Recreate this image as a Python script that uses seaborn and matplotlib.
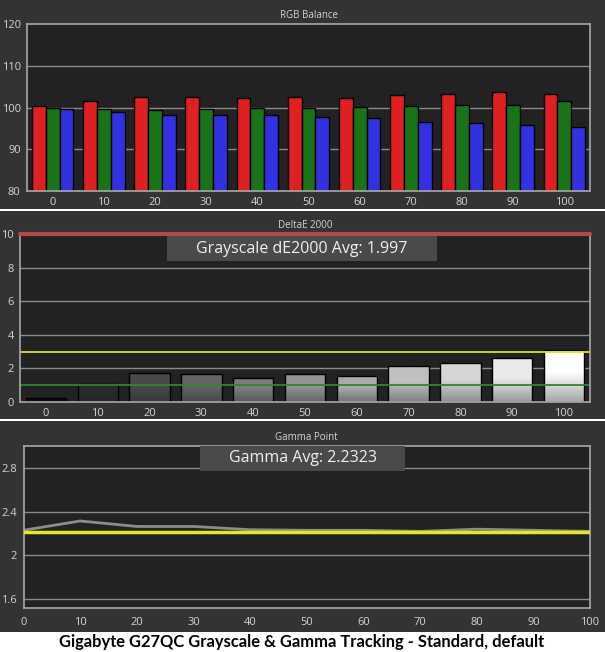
import matplotlib
matplotlib.use("Agg")
import matplotlib.pyplot as plt
import matplotlib.colors as mcolors
from matplotlib.patches import Rectangle
import seaborn as sns
import pandas as pd
import numpy as np

# stimulus levels (% grey)
levels = [0, 10, 20, 30, 40, 50, 60, 70, 80, 90, 100]

# RGB balance (%)
red = [100.4, 101.6, 102.5, 102.5, 102.3, 102.5, 102.3, 103.0, 103.3, 103.7, 103.3]
green = [99.9, 99.7, 99.4, 99.7, 99.9, 99.9, 100.2, 100.4, 100.6, 100.6, 101.6]
blue = [99.7, 99.0, 98.3, 98.1, 98.1, 97.8, 97.5, 96.6, 96.3, 95.9, 95.4]

# DeltaE 2000 per step
delta_e = [0.26, 1.08, 1.75, 1.67, 1.43, 1.67, 1.55, 2.15, 2.33, 2.59, 3.11]
de_avg_label = "Grayscale dE2000 Avg: 1.997"

# gamma per step
gamma = [2.23, 2.315, 2.265, 2.265, 2.235, 2.23, 2.23, 2.22, 2.24, 2.23, 2.22]
gamma_target = 2.21
gamma_avg_label = "Gamma Avg: 2.2323"

caption = "Gigabyte G27QC Grayscale & Gamma Tracking - Standard, default"

PANEL = "#333333"
PLOT = "#222222"
TXT = "#d4d4d4"
GRID = "#8a8a8a"
SPINE = "#a8a8a8"

sns.set_style("dark")
plt.rcParams["font.family"] = ["Open Sans", "DejaVu Sans"]

fig = plt.figure(figsize=(6.05, 6.52), dpi=100, facecolor="white")
H = 652.0
W = 605.0


def panel_bg(y0, y1):
    fig.add_artist(Rectangle((0, 1 - y1 / H), 1, (y1 - y0) / H, transform=fig.transFigure,
                             facecolor=PANEL, edgecolor="none", zorder=-5))


def make_ax(x0, x1, y0, y1):
    ax = fig.add_axes([x0 / W, 1 - y1 / H, (x1 - x0) / W, (y1 - y0) / H])
    ax.set_facecolor(PLOT)
    for s in ax.spines.values():
        s.set_color(SPINE)
        s.set_linewidth(1.2)
        s.set_visible(True)
    ax.grid(False)
    ax.tick_params(colors=SPINE, labelcolor=TXT, labelsize=8, length=3, width=1)
    ax.tick_params(axis="y", pad=1.5)
    return ax


def gradient_bar(ax, patch, top, bottom, floor, hold=0.0):
    x0, w = patch.get_x(), patch.get_width()
    y1 = patch.get_y() + patch.get_height()
    y0 = max(patch.get_y(), floor)
    top = np.array(mcolors.to_rgb(top))
    bottom = np.array(mcolors.to_rgb(bottom))
    t = np.linspace(0, 1, 80)
    frac = np.clip((t - hold) / (1 - hold), 0, 1)[:, None, None]
    img = top[None, None, :] + (bottom - top)[None, None, :] * frac
    im = ax.imshow(img, extent=(x0, x0 + w, y0, y1), origin="upper", aspect="auto",
                   interpolation="bilinear", zorder=0.9)
    im.set_clip_path(patch)
    patch.set_facecolor("none")
    patch.set_zorder(1)


def cat_xaxis(ax):
    ax.set_xticks(range(len(levels)))
    ax.set_xticklabels([str(v) for v in levels])
    ax.set_xticks(np.arange(-0.5, len(levels), 1), minor=True)
    ax.tick_params(axis="x", which="major", length=0, pad=4)
    ax.tick_params(axis="x", which="minor", length=3, color=SPINE)
    ax.set_xlim(-0.5, len(levels) - 0.5)
    ax.set_xlabel("")
    ax.set_ylabel("")


panel_bg(0, 209)
panel_bg(211, 419)
panel_bg(421, 632)

# ---- RGB balance
ax1 = make_ax(27, 590, 24, 191)
rgb = pd.DataFrame({
    "level": levels * 3,
    "value": red + green + blue,
    "channel": ["R"] * 11 + ["G"] * 11 + ["B"] * 11,
})
base = {"R": "#ff0000", "G": "#0a820a", "B": "#1414ff"}
tops = {"R": "#ff6464", "G": "#5cae5c", "B": "#6464ff"}
sns.barplot(data=rgb, x="level", y="value", hue="channel", palette=base, width=0.81,
            edgecolor="black", linewidth=1, legend=False, ax=ax1)
lookup = {mcolors.to_hex(c): k for k, c in base.items()}
for p in list(ax1.patches):
    k = lookup.get(mcolors.to_hex(p.get_facecolor()))
    if k is not None:
        gradient_bar(ax1, p, tops[k], base[k], 80)
for v in [90, 100, 110]:
    ax1.axhline(v, color=GRID, lw=1, zorder=0.5)
ax1.set_ylim(80, 120)
ax1.set_yticks([80, 90, 100, 110, 120])
cat_xaxis(ax1)
ax1.set_title("RGB Balance", color=TXT, fontsize=7, pad=4)

# ---- DeltaE 2000
ax2 = make_ax(20, 590, 234, 402)
de = pd.DataFrame({"level": levels, "de": delta_e})
greys = [mcolors.to_hex([max((v / 100) ** 0.78, 0.04)] * 3) for v in levels]
sns.barplot(data=de, x="level", y="de", hue="level", palette=greys, width=0.78,
            edgecolor="black", linewidth=1, legend=False, ax=ax2)
for p in list(ax2.patches):
    c = np.array(mcolors.to_rgb(p.get_facecolor()))
    if p.get_height() > 0:
        gradient_bar(ax2, p, c, np.clip(c * 0.6 + 0.05, 0, 1), 0, hold=0.45)
for v in [2, 4, 6, 8]:
    ax2.axhline(v, color=GRID, lw=1, zorder=0.5)
ax2.axhline(3.0, color="#e0e020", lw=1.3, zorder=2)
ax2.axhline(1.0, color="#2a8a2a", lw=1.3, zorder=2)
ax2.axhline(10, color="#b84848", lw=3, zorder=3, clip_on=False)
ax2.set_ylim(0, 10)
ax2.set_yticks([0, 2, 4, 6, 8, 10])
ax2.spines["top"].set_visible(False)
cat_xaxis(ax2)
ax2.set_title("DeltaE 2000", color=TXT, fontsize=7, pad=4)
ax2.add_patch(Rectangle((0.258, 0.839), 0.474, 0.149, transform=ax2.transAxes,
                        facecolor="#4a4a4a", edgecolor="none", zorder=4))
ax2.text(0.495, 0.913, de_avg_label, transform=ax2.transAxes, ha="center", va="center",
         color="#f0f0f0", fontsize=11.5, zorder=5)

# ---- Gamma
ax3 = make_ax(23.5, 590, 446, 608)
gm = pd.DataFrame({"level": levels, "gamma": gamma})
for v in [1.6, 2.0, 2.4, 2.8]:
    ax3.axhline(v, color=GRID, lw=1, zorder=0.5)
sns.lineplot(data=gm, x="level", y="gamma", color="#8c8c8c", lw=2, ax=ax3, zorder=2)
ax3.axhline(gamma_target, color="#e6e62a", lw=2.5, zorder=3)
ax3.set_xlim(0, 100)
ax3.set_ylim(1.52, 3.0)
ax3.set_xticks(levels)
ax3.set_yticks([1.6, 2.0, 2.4, 2.8])
ax3.set_yticklabels(["1.6", "2", "2.4", "2.8"])
ax3.set_xlabel("")
ax3.set_ylabel("")
ax3.set_title("Gamma Point", color=TXT, fontsize=7, pad=4)
ax3.add_patch(Rectangle((0.3116, 0.8475), 0.3614, 0.1525, transform=ax3.transAxes,
                        facecolor="#4a4a4a", edgecolor="none", zorder=4))
ax3.text(0.4925, 0.925, gamma_avg_label, transform=ax3.transAxes, ha="center", va="center",
         color="#f0f0f0", fontsize=11.5, zorder=5)

fig.text(0.4985, 1 - 642 / H, caption, ha="center", va="center", fontsize=11.9,
         fontweight="bold", family=["Lato", "DejaVu Sans"], color="black")

fig.savefig("out.png", dpi=100, facecolor="white")
